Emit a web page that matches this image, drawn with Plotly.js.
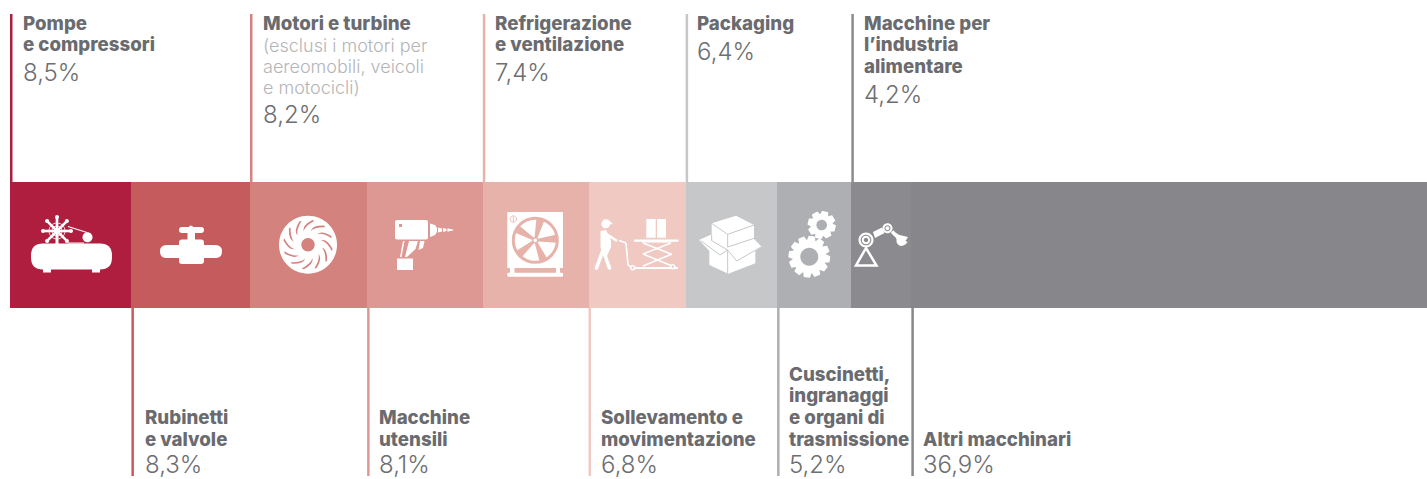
<!DOCTYPE html>
<html><head><meta charset="utf-8">
<script src="https://cdn.plot.ly/plotly-3.0.1.min.js"></script>
<style>html,body{margin:0;padding:0;background:#fff}#c{width:1427px;height:479px}</style>
</head><body><div id="c"></div>
<script>
// ---------- chart data ----------
const categories = ['Pompe e compressori','Rubinetti e valvole','Motori e turbine','Macchine utensili','Refrigerazione e ventilazione','Sollevamento e movimentazione','Packaging','Cuscinetti, ingranaggi e organi di trasmissione','Macchine per l’industria alimentare','Altri macchinari'];
const values = [8.5,8.3,8.2,8.1,7.4,6.8,6.4,5.2,4.2,36.9];
const valueLabels = ['8,5%','8,3%','8,2%','8,1%','7,4%','6,8%','6,4%','5,2%','4,2%','36,9%'];
const titleLines = [['Pompe','e compressori'],['Rubinetti','e valvole'],['Motori e turbine'],['Macchine','utensili'],['Refrigerazione','e ventilazione'],['Sollevamento e','movimentazione'],['Packaging'],['Cuscinetti,','ingranaggi','e organi di','trasmissione'],['Macchine per','l’industria','alimentare'],['Altri macchinari']];
const noteLines = [[],[],['(esclusi i motori per','aereomobili, veicoli','e motocicli)'],[],[],[],[],[],[],[]];
const colors = ['#B01E3F','#C55B5C','#D3827D','#DE9893','#E7B2AA','#EFC9C2','#C5C7C9','#AEAFB3','#8B8B8F','#87878B'];

// ---------- layout constants ----------
const W=1427,H=479,X0=10,BT=182,BB=308,BH=BB-BT;
const labelOffset=[12,12.6,12,11,11.2,11.5,10.4,11,11.7,10.7];
const yP = py => 1+(BT-py)/BH;
const cum=[]; values.reduce((s,v,i)=>(cum[i]=s,s+v),0);

const traces = categories.map((c,i)=>({type:'bar',orientation:'h',name:c,y:['quota'],x:[values[i]],
  marker:{color:colors[i],line:{width:0}},hovertemplate:c+': '+valueLabels[i]+'<extra></extra>'}));

const shapes=[],annotations=[];
const BOLD={family:'Inter,sans-serif',size:18.7,color:'#6A6B6F',weight:800};
const NOTE={family:'Inter,sans-serif',size:18,color:'#B4B5B7',weight:300};
const VAL={family:'Inter,sans-serif',size:24,color:'#6D6E71',weight:300};
function txt(i,t,py,font){annotations.push({xref:'x',yref:'paper',x:cum[i],y:yP(py),xshift:labelOffset[i],xanchor:'left',yanchor:'middle',
  text:t,showarrow:false,align:'left',borderpad:0,font});}

categories.forEach((c,i)=>{
  const top=i%2===0;
  shapes.push({type:'rect',layer:'above',xref:'x',xsizemode:'pixel',xanchor:cum[i],x0:0,x1:2.5,yref:'paper',
    y0:top?yP(14):yP(BB),y1:top?yP(BT):yP(476),fillcolor:colors[i],line:{width:0}});
  const T=titleLines[i],N=noteLines[i];
  if(top){
    let y=23;
    T.forEach(t=>{txt(i,t,y,BOLD);y+=21.5;});
    N.forEach(t=>{txt(i,t,y+0.5,NOTE);y+=21;});
    txt(i,valueLabels[i],y-21.5+28,VAL);
  }else{
    txt(i,valueLabels[i],464.5,VAL);
    T.slice().reverse().forEach((t,k)=>txt(i,t,439-k*21.6,BOLD));
  }
});

// ---------- pictograms (page-pixel geometry, not data) ----------
const f=v=>Math.round(v*100)/100;
function pth(d){return d.replace(/([MLCQ])([^MLCQZ]*)/g,(m,c,a)=>{
  const n=a.trim().split(/[\s,]+/).map(Number);
  const o=[];for(let k=0;k<n.length;k+=2)o.push(f(n[k]-X0)+' '+f(BT-n[k+1]));
  return c+o.join(' ')+' ';});}
function add(d,fill,extra){shapes.push(Object.assign({type:'path',layer:'above',xref:'paper',yref:'paper',xsizemode:'pixel',ysizemode:'pixel',xanchor:0,yanchor:1,
  path:pth(d),fillcolor:fill,line:{width:0},fillrule:'evenodd'},extra||{}));}
function stroke(d,col,w){add(d,'rgba(0,0,0,0)',{line:{color:col,width:w}});}
const K=0.5523;
const circ=(x,y,r)=>{const k=K*r;return `M${f(x-r)} ${f(y)} C${f(x-r)} ${f(y-k)} ${f(x-k)} ${f(y-r)} ${f(x)} ${f(y-r)} C${f(x+k)} ${f(y-r)} ${f(x+r)} ${f(y-k)} ${f(x+r)} ${f(y)} C${f(x+r)} ${f(y+k)} ${f(x+k)} ${f(y+r)} ${f(x)} ${f(y+r)} C${f(x-k)} ${f(y+r)} ${f(x-r)} ${f(y+k)} ${f(x-r)} ${f(y)} Z`;};
const rrect=(a,b,c,d,r)=>`M${a+r} ${b} L${c-r} ${b} Q${c} ${b} ${c} ${b+r} L${c} ${d-r} Q${c} ${d} ${c-r} ${d} L${a+r} ${d} Q${a} ${d} ${a} ${d-r} L${a} ${b+r} Q${a} ${b} ${a+r} ${b} Z`;
const poly=p=>'M'+p.map(q=>f(q[0])+' '+f(q[1])).join(' L')+' Z';
function seg(x1,y1,x2,y2,w){const dx=x2-x1,dy=y2-y1,l=Math.hypot(dx,dy),nx=-dy/l*w/2,ny=dx/l*w/2;
  return poly([[x1+nx,y1+ny],[x2+nx,y2+ny],[x2-nx,y2-ny],[x1-nx,y1-ny]]);}
const WHITE='#FFFFFF';
// 1 compressor
add(rrect(31,243.5,112,269.5,12),WHITE);
add(rrect(43,268,51,272.5,0),WHITE); add(rrect(92,268,100,272.5,0),WHITE);
add(circ(87.5,237.3,5),WHITE);
add(seg(68,226.5,87,232.5,1),WHITE); add(seg(68,243,84,243,1),WHITE);
for(let a=0;a<4;a++){const t=a*Math.PI/4+Math.PI/2,c=Math.cos(t),s=Math.sin(t),R=14;
  add(seg(57-R*c,231-R*s,57+R*c,231+R*s,2.6),WHITE);
  [1,-1].forEach(e=>{add(circ(57+e*R*c,231+e*R*s,2),WHITE);});}
add(seg(57,231,57,245,2.5),WHITE);
stroke(circ(57,231,8),WHITE,0.8); stroke(circ(57,231,5),WHITE,0.8); add(circ(57,231,2.5),WHITE);
// 2 valve
add(rrect(160,245,222,258,6.5),WHITE);
add(rrect(179,239.5,204,264,3),WHITE);
add(rrect(187.5,230,195,241,0),WHITE);
add(rrect(179,227,204,233,3),WHITE); add(circ(191,227.5,2),WHITE);
// 3 turbine
const TB='#D3827D';
add(circ(308,244.7,29),WHITE); add(circ(308,244.7,6.7),TB);
for(let k=0;k<12;k++){const a=k*Math.PI/6+0.2,P=(r,t)=>[f(308+r*Math.cos(t)),f(244.7+r*Math.sin(t))];
  const A=P(14,a),B=P(25,a+0.5),C=P(20,a+0.02),D=P(24.5,a+0.58),E=P(19,a+0.16);
  add(`M${A[0]} ${A[1]} Q${C[0]} ${C[1]} ${B[0]} ${B[1]} L${D[0]} ${D[1]} Q${E[0]} ${E[1]} ${A[0]} ${A[1]} Z`,TB);}
// 4 drill
add(rrect(395,220,428,239.5,2),WHITE); add(rrect(399,224,402,227,0),'#DE9893');
add(poly([[430,223.5],[435,225],[437,228],[437,232],[435,235],[430,237]]),WHITE);
[[438,442],[443,446.5],[447.5,451]].forEach((b,i)=>add(poly([[b[0],227.5+i*0.4],[b[1],228.5+i*0.4],[b[1],231.5-i*0.4],[b[0],232.5-i*0.4]]),WHITE));
add(poly([[451,229],[454,230],[451,231]]),WHITE);
add(poly([[403,241],[404.5,241],[401.5,257],[400,257]]),WHITE);
add(poly([[409,241],[418,241],[415.5,249],[407,257],[405,257]]),WHITE);
add(poly([[420,241],[424.5,241],[423,248],[418.5,250]]),WHITE);
add(rrect(397,258.5,413,270,0.5),WHITE);
// 5 fan
const FB='#E7B2AA',FX=535.3,FY=240.3;
add(rrect(507.3,212,563,268,1),WHITE);
add(rrect(507.3,272.7,563,276.7,1),WHITE);
add(rrect(510,268,514.5,273,0),WHITE); add(rrect(556,268,560,273,0),WHITE);
stroke(circ(FX,FY,22),FB,3);
stroke(circ(513.3,219,3.2),FB,0.8);add(seg(513.3,216,513.3,222,0.8),FB);
for(let k=0;k<5;k++){const a=k*2*Math.PI/5-1.3,P=(r,t)=>[FX+r*Math.cos(t),FY+r*Math.sin(t)];
  add(poly([P(3,a-0.5),P(22,a-0.22),P(22,a+0.16),P(3,a+0.5)]),FB);}
add(circ(FX,FY,3.2),FB); add(circ(FX,FY,1.8),WHITE);
// 6 worker and lift
add(circ(605.7,224,4.3),WHITE); add(poly([[603,219.5],[608,219.5],[613,224],[607,225]]),WHITE);
add(poly([[600.5,231],[606,230],[611,240],[611,247],[607,256],[605,256],[600.5,248]]),WHITE);
add(seg(605,233,617,241,2.6),WHITE);
add(seg(603,250,596.5,268,3.6),WHITE); add(seg(603,250,609.5,268,3.6),WHITE);
add(circ(596.5,268,1.8),WHITE); add(circ(609.5,268,1.8),WHITE);
add(seg(619,240.5,626,243,1.6),WHITE); add(seg(626,243,628,265,1.6),WHITE); add(seg(628,265,633,268,1.6),WHITE);
add(seg(632,268,678,268,2),WHITE);
[[632.7,267.7],[672.7,266.7]].forEach(w=>{add(circ(w[0],w[1],2.8),WHITE);add(circ(w[0],w[1],1.2),'#EFC9C2');});
add(rrect(634,239.5,678.5,241.7,0),WHITE);
add(rrect(646.3,219,655.7,237.7,0),WHITE); add(rrect(657,219,666,237.7,0),WHITE);
add(seg(643,243,671,254,1.6),WHITE); add(seg(671,243,643,254,1.6),WHITE);
add(seg(643,254,672,266,1.6),WHITE); add(seg(672,254,643,266,1.6),WHITE);
add(seg(642,242,671,242,1.2),WHITE);
// 7 boxes
const BG='#C5C7C9',bx=v=>480+v/3,by=v=>175+v/3,B=(a,b)=>[bx(a),by(b)];
add(poly([B(657,195),B(695,178),B(695,145),B(768,122),B(822,150),B(822,192),B(845,215),B(826,228),B(826,265),B(745,296),B(688,270),B(688,228)]),WHITE);
const LN=p=>stroke('M'+p.map(q=>f(q[0])+' '+f(q[1])).join(' L'),BG,1);
LN([B(695,145),B(743,178),B(822,150)]); LN([B(743,178),B(743,216)]);
LN([B(695,178),B(695,197)]); LN([B(662,197),B(720,240),B(743,225),B(770,258),B(843,216)]);
LN([B(743,225),B(743,296)]); LN([B(743,216),B(822,190)]); LN([B(695,197),B(743,225)]);
// 8 gears
function gear(cx,cy,R,r,h,n,rot){const p=[],st=2*Math.PI/n;
  for(let k=0;k<n;k++){const t=k*st+rot;
    [[r,-0.5],[R,-0.28],[R,0.28],[r,0.5]].forEach(q=>p.push([cx+q[0]*Math.cos(t+q[1]*st),cy+q[0]*Math.sin(t+q[1]*st)]));}
  add(poly(p)+' '+circ(cx,cy,h),WHITE);}
gear(809.3,256.7,21,16.5,9,12,0.12);
gear(821.7,225,14.3,10.8,5.3,8,0.25);
// 9 robot arm
stroke('M866 248 L856 265.5 L876.5 265.5 Z',WHITE,2.5);
add(circ(866,240,7.5)+' '+circ(866,240,5.3),WHITE);
add(circ(866,240,4.3)+' '+circ(866,240,2.2),WHITE);
add(poly([[873,232],[882,227.5],[884.5,233],[875,238]]),WHITE);
add(circ(887.5,228.3,5)+' '+circ(887.5,228.3,3),WHITE); add(circ(887.5,228.3,2),WHITE);
add(seg(892,231.5,898,237.5,3.6),WHITE);
add('M896 233 L899.5 235 L908 237 L905.5 241 L907.5 242 Q905 246 900.5 246 Q896 244 896.5 240 Z',WHITE);

const layout={width:W,height:H,margin:{l:X0,r:0,t:BT,b:H-BB,pad:0},barmode:'stack',bargap:0,showlegend:false,
  paper_bgcolor:'#fff',plot_bgcolor:'#fff',
  xaxis:{range:[0,99.2],visible:false,fixedrange:true},
  yaxis:{visible:false,fixedrange:true},shapes,annotations};
Plotly.newPlot('c',traces,layout,{staticPlot:true,displayModeBar:false});
</script></body></html>
